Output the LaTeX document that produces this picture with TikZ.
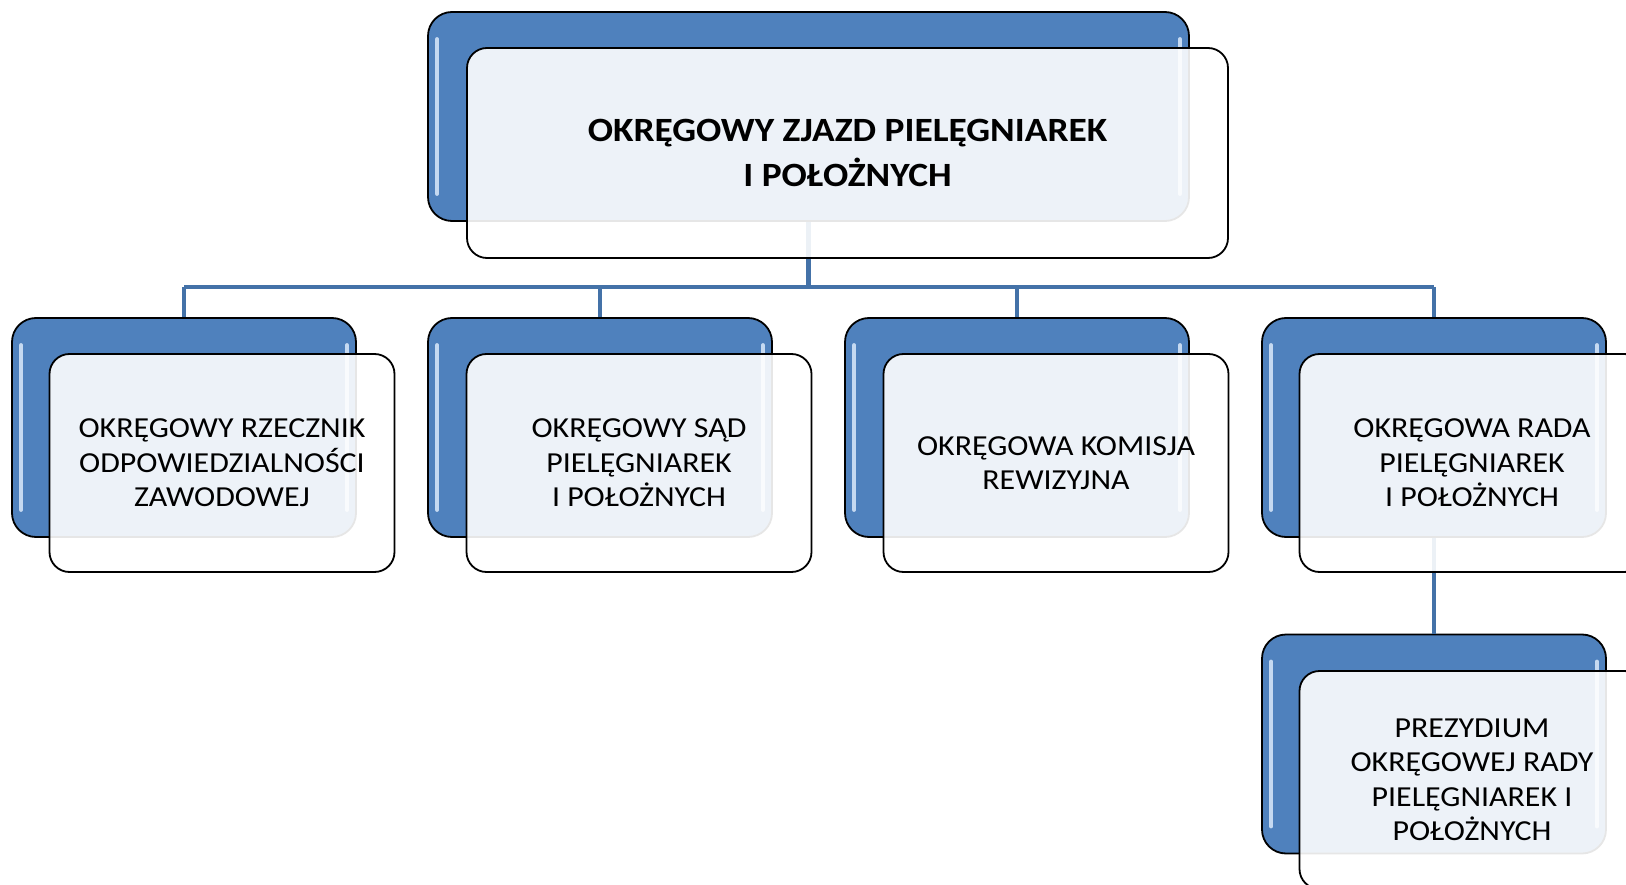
\documentclass[tikz,border=0pt]{standalone}
\usepackage{fontspec}
\setmainfont{Carlito}
\newfontfamily\widefont[FakeStretch=1.1]{Carlito}
\definecolor{boxblue}{HTML}{4F81BD}
\definecolor{lineblue}{HTML}{4472A8}
\definecolor{glossblue}{HTML}{D2E3F7}
\begin{document}
\begin{tikzpicture}[x=1pt,y=-1pt,
  backbox/.style={draw=black, line width=1.8pt, fill=boxblue, rounded corners=24pt,
    minimum width=#1, inner sep=0pt},
  frontbox/.style={draw=black, line width=1.8pt, fill=white, fill opacity=0.9, text opacity=1,
    rounded corners=20pt, inner sep=0pt, align=center},
  conn/.style={draw=lineblue, line width=4.8pt},
  gloss/.style={draw=glossblue, line width=4pt, line cap=round, opacity=0.9},
  childtext/.style={font=\widefont\fontsize{29}{34.5}\selectfont},
  toptext/.style={font=\widefont\fontsize{34}{45}\selectfont\bfseries}
]
\useasboundingbox (0,0) rectangle (1626,885);
\clip (0,0) rectangle (1626,885);

% back (blue) boxes
\node[backbox=761pt, minimum height=209pt] (tb) at (808.5,116.5) {};
\node[backbox=344pt, minimum height=219pt] (b1) at (184,427.5) {};
\node[backbox=344pt, minimum height=219pt] (b2) at (600,427.5) {};
\node[backbox=344pt, minimum height=219pt] (b3) at (1017,427.5) {};
\node[backbox=344pt, minimum height=219pt] (b4) at (1434,427.5) {};
\node[backbox=344pt, minimum height=219pt] (b5) at (1434,744) {};

% glossy highlights
\foreach \n in {tb,b1,b2,b3,b4,b5}{
  \draw[gloss] ([xshift=10pt,yshift=-28pt]\n.north west) -- ([xshift=10pt,yshift=28pt]\n.south west);
  \draw[gloss] ([xshift=-10pt,yshift=-28pt]\n.north east) -- ([xshift=-10pt,yshift=28pt]\n.south east);
}

% connectors
\coordinate (hub) at (808.5,287);
\coordinate (hl) at (184,287);
\coordinate (hr) at (1434,287);
\draw[conn] (tb.south) -- (hub);
\draw[conn] (hl) -- (hr);
\draw[conn] (hl) -- (b1.north);
\draw[conn] (b2.north |- hub) -- (b2.north);
\draw[conn] (b3.north |- hub) -- (b3.north);
\draw[conn] (hr) -- (b4.north);
\draw[conn] (b4.south) -- (b5.north);

% front boxes
\node[frontbox, minimum width=761pt, minimum height=210pt, toptext] (tf) at (847.5,153)
  {OKRĘGOWY ZJAZD PIELĘGNIAREK\\I POŁOŻNYCH};
\node[frontbox, minimum width=345pt, minimum height=218pt, childtext] (f1) at (222,463)
  {OKRĘGOWY RZECZNIK\\ODPOWIEDZIALNOŚCI\\ZAWODOWEJ};
\node[frontbox, minimum width=345pt, minimum height=218pt, childtext] (f2) at (639,463)
  {OKRĘGOWY SĄD\\PIELĘGNIAREK\\I POŁOŻNYCH};
\node[frontbox, minimum width=345pt, minimum height=218pt, childtext] (f3) at (1056,463)
  {OKRĘGOWA KOMISJA\\REWIZYJNA};
\node[frontbox, minimum width=345pt, minimum height=218pt, childtext] (f4) at (1472,463)
  {OKRĘGOWA RADA\\PIELĘGNIAREK\\I POŁOŻNYCH};
\node[frontbox, minimum width=345pt, minimum height=218pt, childtext] (f5) at (1472,780)
  {PREZYDIUM\\OKRĘGOWEJ RADY\\PIELĘGNIAREK I\\POŁOŻNYCH};
\end{tikzpicture}
\end{document}
